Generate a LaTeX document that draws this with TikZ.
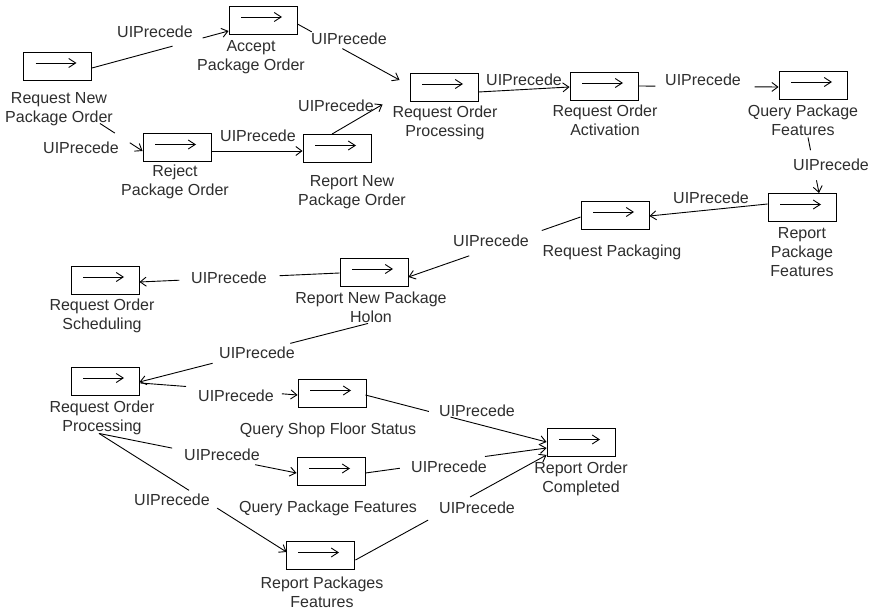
\documentclass[tikz,border=0pt]{standalone}
\usepackage{fontspec}
\setmainfont{Liberation Sans}
\usetikzlibrary{arrows.meta,calc}
\definecolor{txt}{HTML}{2E2E2E}
\tikzset{
  actbox/.style={draw, line width=0.9pt, minimum width=68pt, minimum height=28pt, inner sep=0pt,
    path picture={\draw[line width=0.9pt,-{Straight Barb[length=7pt,width=9pt]}]
      ([xshift=12pt,yshift=3pt]path picture bounding box.west) --
      ([xshift=-15pt,yshift=3pt]path picture bounding box.east);}},
  actlabel/.style={anchor=north, align=center, inner sep=0pt,
    font=\fontsize{16}{19}\selectfont, text=txt},
  rel/.style={inner sep=0pt, font=\fontsize{16}{19}\selectfont, text=txt},
  link/.style={line width=0.9pt},
  linkarrow/.style={link, -{Straight Barb[length=6pt,width=9pt]}},
}
% a relation line from #1 to #2, interrupted between fractions #3 and #4
\newcommand\uiconn[4]{%
  \draw[link] (#1) -- ($(#1)!#3!(#2)$);
  \draw[linkarrow] ($(#1)!#4!(#2)$) -- (#2);}
\begin{document}
\begin{tikzpicture}[x=1pt,y=-1pt]
\fill[white] (0,0) rectangle (872,612);
\useasboundingbox (0,0) rectangle (872,612);

% activities
\node[actbox] (b1)  at (57.5,66)  {};
\node[actbox] (b2)  at (263,20)   {};
\node[actbox] (b3)  at (177,147.5){};
\node[actbox] (b4)  at (337,148.5){};
\node[actbox] (b5)  at (444,87)   {};
\node[actbox] (b6)  at (604,86)   {};
\node[actbox] (b7)  at (813,85)   {};
\node[actbox] (b8)  at (802,207.5){};
\node[actbox] (b9)  at (615,215)  {};
\node[actbox] (b10) at (374,272)  {};
\node[actbox] (b11) at (105,280)  {};
\node[actbox] (b12) at (105,381)  {};
\node[actbox] (b13) at (332,393.5){};
\node[actbox] (b14) at (331,471.5){};
\node[actbox] (b15) at (320,555.5){};
\node[actbox] (b16) at (581,442.5){};

% activity names
\node[actlabel] (l1)  at (59,92)   {Request New\\Package Order};
\node[actlabel] (l2)  at (251,40)  {Accept\\Package Order};
\node[actlabel] (l3)  at (175,165) {Reject\\Package Order};
\node[actlabel] (l4)  at (352,175) {Report New\\Package Order};
\node[actlabel] (l5)  at (445,106) {Request Order\\Processing};
\node[actlabel] (l6)  at (605,105) {Request Order\\Activation};
\node[actlabel] (l7)  at (803,105) {Query Package\\Features};
\node[actlabel] (l8)  at (802,227) {Report\\Package\\Features};
\node[actlabel] (l9)  at (612,245) {Request Packaging};
\node[actlabel] (l10) at (371,292) {Report New Package\\Holon};
\node[actlabel] (l11) at (102,299) {Request Order\\Scheduling};
\node[actlabel] (l12) at (102,401) {Request Order\\Processing};
\node[actlabel] (l13) at (328,423) {Query Shop Floor Status};
\node[actlabel] (l14) at (328,501) {Query Package Features};
\node[actlabel] (l15) at (322,577) {Report Packages\\Features};
\node[actlabel] (l16) at (581,462) {Report Order\\Completed};

% relation end points
\coordinate (c1s)  at ([shift={(0,2)}]b1.east);
\coordinate (c1e)  at ([shift={(0,11)}]b2.west);
\coordinate (c2s)  at ([shift={(0,4)}]b2.east);
\coordinate (c2e)  at ([shift={(-10,-7)}]b5.west);
\coordinate (c3s)  at ([shift={(8,43)}]b1.south east);
\coordinate (c3e)  at ([shift={(0,3.5)}]b3.west);
\coordinate (c4s)  at ([shift={(0,3.5)}]b3.east);
\coordinate (c4e)  at ([shift={(0,2.5)}]b4.west);
\coordinate (c5s)  at ([shift={(-5,0)}]b4.north);
\coordinate (c5e)  at ([shift={(-27,3)}]b5.south west);
\coordinate (c6s)  at ([shift={(0,5)}]b5.east);
\coordinate (c6e)  at ([shift={(0,1)}]b6.west);
\coordinate (c7s)  at (b6.east);
\coordinate (c7e)  at ([shift={(0,2)}]b7.west);
\coordinate (c8s)  at ([shift={(-5,38)}]b7.south);
\coordinate (c8e)  at ([shift={(17,0)}]b8.north);
\coordinate (c9s)  at ([shift={(0,-3.5)}]b8.west);
\coordinate (c9e)  at ([shift={(0,1)}]b9.east);
\coordinate (c10s) at ([shift={(0,2)}]b9.west);
\coordinate (c10e) at ([shift={(0,5)}]b10.east);
\coordinate (c11s) at ([shift={(0,1)}]b10.west);
\coordinate (c11e) at ([shift={(0,2)}]b11.east);
\coordinate (c12s) at ([shift={(-6,37)}]b10.south);
\coordinate (c12e) at ([shift={(0,1)}]b12.east);
\coordinate (c13s) at ([shift={(1,2)}]b12.east);
\coordinate (c13e) at ([shift={(0,1.5)}]b13.west);
\coordinate (c14s) at ([shift={(-6,38)}]b12.south);
\coordinate (c14e) at ([shift={(0,1.5)}]b14.west);
\coordinate (c15e) at ([shift={(1,-3.5)}]b15.west);
\coordinate (c16s) at ([shift={(-1,1.5)}]b13.east);
\coordinate (c16e) at ([shift={(0,-0.5)}]b16.west);
\coordinate (c17s) at ([shift={(0,1.5)}]b14.east);
\coordinate (c17e) at ([shift={(0,5.5)}]b16.west);
\coordinate (c18s) at ([shift={(1,4.5)}]b15.east);
\coordinate (c18e) at ([shift={(0,12.5)}]b16.west);

% relations
\uiconn{c1s}{c1e}{0.59}{0.81}
\uiconn{c2s}{c2e}{0.14}{0.44}
\uiconn{c3s}{c3e}{0.35}{0.70}
\draw[linkarrow] (c4s) -- (c4e);
\draw[linkarrow] (c5s) -- (c5e);
\draw[linkarrow] (c6s) -- (c6e);
\uiconn{c7s}{c7e}{0.12}{0.83}
\uiconn{c8s}{c8e}{0.23}{0.77}
\draw[linkarrow] (c9s) -- (c9e);
\uiconn{c10s}{c10e}{0.225}{0.647}
\uiconn{c11s}{c11e}{0.30}{0.80}
\uiconn{c12s}{c12e}{0.34}{0.68}
\uiconn{c13s}{c13e}{0.29}{0.90}
\uiconn{c14s}{c14e}{0.37}{0.79}
\uiconn{c14s}{c15e}{0.48}{0.63}
\uiconn{c16s}{c16e}{0.35}{0.47}
\uiconn{c17s}{c17e}{0.19}{0.66}
\uiconn{c18s}{c18e}{0.38}{0.60}

% relation names
\node[rel] (r1)  at (155,32)  {UIPrecede};
\node[rel] (r2)  at (349,39)  {UIPrecede};
\node[rel] (r3)  at (81,148)  {UIPrecede};
\node[rel] (r4)  at (258,136) {UIPrecede};
\node[rel] (r5)  at (336,106) {UIPrecede};
\node[rel] (r6)  at (524,80)  {UIPrecede};
\node[rel] (r7)  at (703,80)  {UIPrecede};
\node[rel] (r8)  at (831,165) {UIPrecede};
\node[rel] (r9)  at (711,198) {UIPrecede};
\node[rel] (r10) at (491,241) {UIPrecede};
\node[rel] (r11) at (229,278) {UIPrecede};
\node[rel] (r12) at (257,353) {UIPrecede};
\node[rel] (r13) at (236,396) {UIPrecede};
\node[rel] (r14) at (222,455) {UIPrecede};
\node[rel] (r15) at (172,500) {UIPrecede};
\node[rel] (r16) at (477,411) {UIPrecede};
\node[rel] (r17) at (449,467) {UIPrecede};
\node[rel] (r18) at (477,508) {UIPrecede};
\end{tikzpicture}
\end{document}
